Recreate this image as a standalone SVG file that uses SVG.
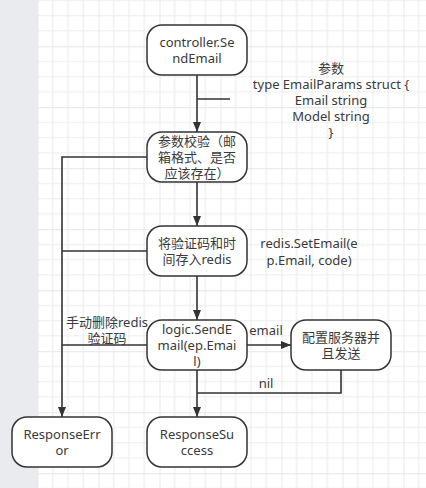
<svg xmlns="http://www.w3.org/2000/svg" width="426" height="488" viewBox="0 0 426 488">
<defs>
<pattern id="grid" x="37.5" y="-14.75" width="61" height="61" patternUnits="userSpaceOnUse">
<path d="M15.25,0V61M30.5,0V61M45.75,0V61M0,15.25H61M0,30.5H61M0,45.75H61" stroke="#ededed" stroke-width="1.2" fill="none"/>
<path d="M0,0V61M0,0H61" stroke="#e6e6e6" stroke-width="1.8" fill="none"/>
</pattern>
<marker id="arr" markerUnits="userSpaceOnUse" markerWidth="10" markerHeight="8" refX="10" refY="4" orient="auto">
<path d="M0,0L10,4L0,8z" fill="#333"/>
</marker>
<style>
.n rect{fill:#fff;stroke:#333;stroke-width:1.5}
text{font-family:"Noto Sans","Noto Sans CJK SC",sans-serif;font-size:13px;fill:#3a3a3a;text-anchor:middle}
.c path{fill:none;stroke:#333;stroke-width:1.6}
</style>
</defs>
<rect x="0" y="0" width="426" height="488" fill="#fff"/>
<rect x="38" y="0" width="388" height="488" fill="url(#grid)"/>
<rect x="0" y="0" width="38" height="488" fill="#e9ebee"/>

<g class="c" id="connectors">
<path d="M197,75V132" marker-end="url(#arr)"/>
<path d="M197,99H230"/>
<path d="M197,182V226" marker-end="url(#arr)"/>
<path d="M197,276V320" marker-end="url(#arr)"/>
<path d="M197,370V417" marker-end="url(#arr)"/>
<path d="M147,157H62V417" marker-end="url(#arr)"/>
<path d="M147,251H62"/>
<path d="M147,345H62"/>
<path d="M247,345H291" marker-end="url(#arr)"/>
<path d="M341,370V393H197"/>
</g>

<g id="n1" class="n"><rect x="147" y="25" width="100" height="50" rx="15"/><text x="197" y="46.5">controller.Se<tspan x="197" dy="16">ndEmail</tspan></text></g>
<g id="n2" class="n"><rect x="147" y="132" width="100" height="50" rx="15"/><text x="197" y="146">参数校验（邮<tspan x="197" dy="16">箱格式、是否</tspan><tspan x="197" dy="16">应该存在）</tspan></text></g>
<g id="n3" class="n"><rect x="147" y="226" width="100" height="50" rx="15"/><text x="197" y="247.5">将验证码和时<tspan x="197" dy="16">间存入redis</tspan></text></g>
<g id="n4" class="n"><rect x="147" y="320" width="100" height="50" rx="15"/><text x="197" y="334">logic.SendE<tspan x="197" dy="16">mail(ep.Emai</tspan><tspan x="197" dy="16">l)</tspan></text></g>
<g id="n5" class="n"><rect x="291" y="320" width="100" height="50" rx="15"/><text x="341" y="341.5">配置服务器并<tspan x="341" dy="16">且发送</tspan></text></g>
<g id="n6" class="n"><rect x="12" y="417" width="100" height="50" rx="15"/><text x="62" y="438.5">ResponseErr<tspan x="62" dy="16">or</tspan></text></g>
<g id="n7" class="n"><rect x="147" y="417" width="100" height="50" rx="15"/><text x="197" y="438.5">ResponseSu<tspan x="197" dy="16">ccess</tspan></text></g>

<g id="labels">
<text x="331" y="72.5">参数<tspan x="331" dy="16">type EmailParams struct {</tspan><tspan x="331" dy="16">Email string</tspan><tspan x="331" dy="16">Model string</tspan><tspan x="331" dy="16.5">}</tspan></text>
<text x="309" y="248">redis.SetEmail(e<tspan x="309" dy="16.5">p.Email, code)</tspan></text>
<text x="107" y="327">手动删除redis<tspan x="107" dy="15.5">验证码</tspan></text>
<text x="266" y="334.5">email</text>
<text x="266" y="387.5">nil</text>
</g>
</svg>
